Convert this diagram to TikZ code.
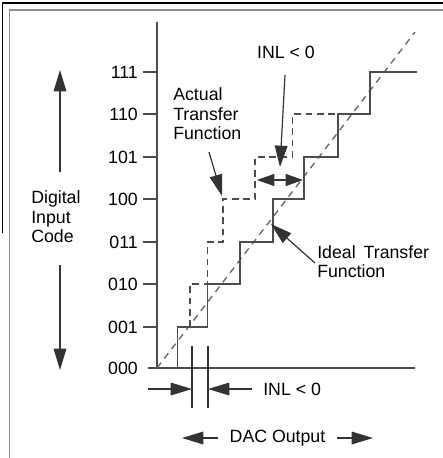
\documentclass[tikz,border=0pt]{standalone}
\usepackage{fontspec}
\setmainfont{Liberation Sans}
\usetikzlibrary{arrows.meta}
\begin{document}
\begin{tikzpicture}[x=0.75pt,y=-0.75pt,
  lbl/.style={font=\fontsize{13.3}{14.6}\selectfont, inner sep=0pt, align=left},
  ticklbl/.style={font=\fontsize{13.3}{14.6}\selectfont, inner sep=0pt, anchor=east},
  axisline/.style={draw=black!70, line width=1.1pt},
  ideal/.style={draw=black!70, line width=1.1pt},
  actual/.style={draw=black!70, line width=1.1pt, dash pattern=on 5pt off 3.5pt},
  diag/.style={draw=black!60, line width=1pt, dash pattern=on 5pt off 4pt},
  pointer/.style={draw=black!80, line width=0.9pt, -{Triangle[length=16pt,width=9.5pt]}},
  shortptr/.style={draw=black!80, line width=0.9pt, -{Triangle[length=13pt,width=9pt]}},
  thin/.style={draw=black!80, line width=0.9pt}]
\useasboundingbox (0,0) rectangle (443,458);
% frame
\draw[black, line width=1.4pt] (2.5,233) -- (2.5,3) -- (443,3);
\draw[black!45, line width=1.3pt] (9.5,458) -- (9.5,10) -- (443,10);
% axes
\coordinate (ytop) at (157,22);
\coordinate (orig) at (157,368);
\coordinate (xleft) at (148,368);
\coordinate (xright) at (415,368);
\draw[axisline] (ytop) -- (orig);
\draw[axisline] (xleft) -- (xright);
% ticks and labels
\foreach \y/\t/\n in {72/111/t7,114/110/t6,157/101/t5,199/100/t4,242/011/t3,284/010/t2,327/001/t1}{
  \coordinate (\n) at (157,\y);
  \draw[axisline] (143,\y) -- (\n);
  \node[ticklbl] (l\n) at (138,\y) {\t};
}
\node[ticklbl] (lt0) at (138,368) {000};
% diagonal ideal line
\coordinate (dend) at (415,32);
\draw[diag] (orig) -- (dend);
% ideal staircase
\draw[ideal] (177.7,368) -- (177.7,327) -- (207.7,327) -- (207.7,284) -- (240,284) -- (240,242)
  -- (273,242) -- (273,199) -- (304,199) -- (304,157) -- (338,157) -- (338,114)
  -- (370,114) -- (370,72) -- (417,72);
% actual staircase
\draw[actual] (190,327) -- (190,284) -- (207.7,284) -- (207.7,242) -- (223,242) -- (223,199)
  -- (255,199) -- (255,157) -- (292.7,157) -- (292.7,114) -- (338,114);
% top INL label
\node[lbl] (inltop) at (286,52) {INL < 0};
\coordinate (inlfrom) at (285,75);
\coordinate (inlto) at (280,167);
\draw[pointer] (inlfrom) -- (inlto);
\coordinate (dl) at (257,180);
\coordinate (dm) at (280,180);
\coordinate (dr) at (303,180);
\draw[shortptr] (dm) -- (dl);
\draw[shortptr] (dm) -- (dr);
% actual transfer label
\node[lbl, anchor=west] (actual) at (173,114) {Actual\\Transfer\\Function};
\coordinate (actfrom) at (209,152);
\coordinate (actto) at (222,196);
\draw[pointer] (actfrom) -- (actto);
% ideal transfer label
\node[lbl, anchor=west] (ideal) at (317,261.5) {Ideal\hspace{0.45em}Transfer\\Function};
\coordinate (idfrom) at (315,263);
\coordinate (idto) at (271,224);
\draw[pointer] (idfrom) -- (idto);
% digital input code
\node[lbl, anchor=west] (dic) at (31,217) {Digital\\Input\\Code};
\coordinate (upfrom) at (60,172);
\coordinate (upto) at (60,70);
\draw[pointer] (upfrom) -- (upto);
\coordinate (dnfrom) at (60,265);
\coordinate (dnto) at (60,370);
\draw[pointer] (dnfrom) -- (dnto);
% bottom INL
\coordinate (v1t) at (192,346);
\coordinate (v1b) at (192,408);
\coordinate (v2t) at (208,346);
\coordinate (v2b) at (208,408);
\draw[thin] (v1t) -- (v1b);
\draw[thin] (v2t) -- (v2b);
\coordinate (blfrom) at (148,389);
\coordinate (blto) at (192,389);
\coordinate (brfrom) at (252,389);
\coordinate (brto) at (208,389);
\draw[pointer] (blfrom) -- (blto);
\draw[pointer] (brfrom) -- (brto);
\node[lbl, anchor=west] (inlbot) at (263,389) {INL < 0};
% DAC output
\node[lbl] (dac) at (277.5,438) {DAC Output};
\coordinate (dlfrom) at (218,438);
\coordinate (dlto) at (182,438);
\coordinate (drfrom) at (337,438);
\coordinate (drto) at (373,438);
\draw[pointer] (dlfrom) -- (dlto);
\draw[pointer] (drfrom) -- (drto);
\end{tikzpicture}
\end{document}
